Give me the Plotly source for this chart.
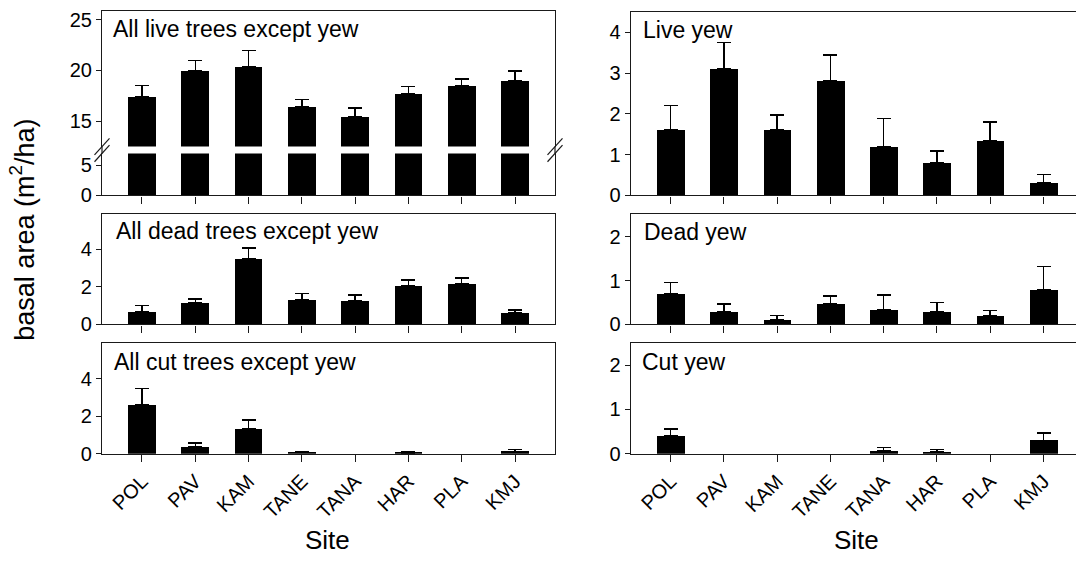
import plotly.graph_objects as go

# Sites along the x axis
sites = ["POL", "PAV", "KAM", "TANE", "TANA", "HAR", "PLA", "KMJ"]

# Basal area means (m2/ha) and upper standard errors per panel
live_other = [17.4, 20.0, 20.35, 16.4, 15.4, 17.7, 18.45, 18.95]
live_other_se = [1.1, 1.0, 1.6, 0.75, 0.9, 0.7, 0.7, 1.0]

live_yew = [1.6, 3.1, 1.6, 2.8, 1.2, 0.8, 1.35, 0.3]
live_yew_se = [0.6, 0.65, 0.37, 0.64, 0.68, 0.29, 0.45, 0.21]

dead_other = [0.7, 1.15, 3.5, 1.3, 1.25, 2.05, 2.15, 0.6]
dead_other_se = [0.3, 0.2, 0.58, 0.35, 0.33, 0.32, 0.33, 0.17]

dead_yew = [0.7, 0.3, 0.1, 0.47, 0.33, 0.3, 0.2, 0.8]
dead_yew_se = [0.26, 0.17, 0.1, 0.18, 0.34, 0.2, 0.12, 0.52]

cut_other = [2.62, 0.38, 1.32, 0.06, 0.0, 0.05, 0.0, 0.12]
cut_other_se = [0.85, 0.2, 0.48, 0.04, 0.0, 0.05, 0.0, 0.1]

cut_yew = [0.4, 0.0, 0.0, 0.0, 0.07, 0.05, 0.0, 0.3]
cut_yew_se = [0.16, 0.0, 0.0, 0.0, 0.07, 0.05, 0.0, 0.17]

W, H = 1076, 569
FONT = "Liberation Sans, Arial, Helvetica, sans-serif"
LINE = "#1a1a1a"


def px(x):
    return x / W


def py(y):
    return 1 - y / H


fig = go.Figure()


def bars(vals, se, ax, err=True):
    # a site with zero basal area has no bar and no error bar
    kw = dict(
        x=sites, y=[v if v > 0 else None for v in vals],
        xaxis="x" + ax, yaxis="y" + ax,
        marker=dict(color="black", line=dict(width=0)),
        width=0.52, showlegend=False, hoverinfo="x+y",
    )
    if err:
        kw["error_y"] = dict(type="data", symmetric=False, array=se,
                             arrayminus=[0] * len(se), color="black",
                             thickness=1.5, width=7)
    fig.add_trace(go.Bar(**kw))


bars(live_other, live_other_se, "1")             # upper part of broken axis
bars(live_other, live_other_se, "2", err=False)  # lower part of broken axis
bars(dead_other, dead_other_se, "3")
bars(cut_other, cut_other_se, "4")
bars(live_yew, live_yew_se, "5")
bars(dead_yew, dead_yew_se, "6")
bars(cut_yew, cut_yew_se, "7")

LEFT = [px(102), px(555)]
RIGHT = [px(630.7), 1.0]
XR_LEFT = [-0.75, 7.75]
XR_RIGHT = [-0.75, 7.61]

tickfont = dict(family=FONT, size=20, color="black")


def xaxis(dom, rng, labels=False, ticks=True, mirror=True, side="bottom"):
    return dict(
        domain=dom, range=rng, type="category", showgrid=False, zeroline=False,
        showline=True, linecolor=LINE, linewidth=1.2, mirror=mirror, side=side,
        ticks="outside" if ticks else "", ticklen=7, tickwidth=1.2, tickcolor=LINE,
        showticklabels=labels, tickangle=-45, tickfont=tickfont,
        fixedrange=True,
    )


def yaxis(dom, rng, tickvals, anchor, mirror=True):
    return dict(
        domain=dom, range=rng, showgrid=False, zeroline=False,
        showline=True, linecolor=LINE, linewidth=1.2, mirror=mirror,
        ticks="outside", ticklen=5, tickwidth=1.2, tickcolor=LINE,
        tickvals=tickvals, tickfont=tickfont, anchor=anchor,
        fixedrange=True,
    )


TOP_UP = [py(148), py(9)]
TOP_LO = [py(198), py(155)]
MID = [py(330), py(216.7)]
BOT = [py(462.3), py(349)]

layout = dict(
    width=W, height=H, margin=dict(l=0, r=0, t=0, b=0),
    paper_bgcolor="white", plot_bgcolor="white", bargap=0,
    font=dict(family=FONT, color="black"),
    xaxis=xaxis(LEFT, XR_LEFT, ticks=False, mirror=False, side="top"),
    yaxis=yaxis(TOP_UP, [12.5, 25.87], [15, 20, 25], "x"),
    xaxis2=xaxis(LEFT, XR_LEFT, mirror=False),
    yaxis2=yaxis(TOP_LO, [0, 6.95], [0, 5], "x2"),
    xaxis3=xaxis(LEFT, XR_LEFT),
    yaxis3=yaxis(MID, [0, 5.9], [0, 2, 4], "x3"),
    xaxis4=xaxis(LEFT, XR_LEFT, labels=True),
    yaxis4=yaxis(BOT, [0, 5.9], [0, 2, 4], "x4"),
    xaxis5=xaxis(RIGHT, XR_RIGHT),
    yaxis5=yaxis([py(198), py(10)], [0, 4.5], [0, 1, 2, 3, 4], "x5", mirror=False),
    xaxis6=xaxis(RIGHT, XR_RIGHT),
    yaxis6=yaxis(MID, [0, 2.52], [0, 1, 2], "x6", mirror=False),
    xaxis7=xaxis(RIGHT, XR_RIGHT, labels=True),
    yaxis7=yaxis(BOT, [0, 2.5], [0, 1, 2], "x7", mirror=False),
)
for i in range(1, 8):
    k = "xaxis" if i == 1 else f"xaxis{i}"
    layout[k]["anchor"] = "y" if i == 1 else f"y{i}"
fig.update_layout(**layout)

shapes = []
# close the frame across the axis break
for xx in (102, 555):
    shapes.append(dict(type="line", xref="paper", yref="paper",
                       x0=px(xx), x1=px(xx), y0=py(148), y1=py(155),
                       line=dict(color=LINE, width=1.2)))
    # break marks
    for dy in (-3.5, 3.5):
        shapes.append(dict(type="line", xref="paper", yref="paper",
                           x0=px(xx - 7.5), y0=py(160 + dy),
                           x1=px(xx + 7.5), y1=py(143 + dy),
                           line=dict(color=LINE, width=1.2)))
fig.update_layout(shapes=shapes)

annotations = []
titles = [
    ("All live trees except yew", 111, 28),
    ("All dead trees except yew", 114, 234),
    ("All cut trees except yew", 112, 368),
    ("Live yew", 641, 29),
    ("Dead yew", 642, 235),
    ("Cut yew", 640, 368),
]
for text, x, y in titles:
    annotations.append(dict(text=text, xref="paper", yref="paper",
                            x=px(x), y=py(y), xanchor="left", yanchor="middle",
                            showarrow=False,
                            font=dict(family=FONT, size=23, color="black")))
for x in (327, 856):
    annotations.append(dict(text="Site", xref="paper", yref="paper",
                            x=px(x), y=py(551), xanchor="center", yanchor="middle",
                            showarrow=False,
                            font=dict(family=FONT, size=26, color="black")))
annotations.append(dict(text="basal area (m<sup>2</sup>/ha)", xref="paper", yref="paper",
                        x=px(22), y=py(233), xanchor="center", yanchor="middle",
                        textangle=-90, showarrow=False,
                        font=dict(family=FONT, size=27, color="black")))
fig.update_layout(annotations=annotations)

fig.write_html("out.html")
